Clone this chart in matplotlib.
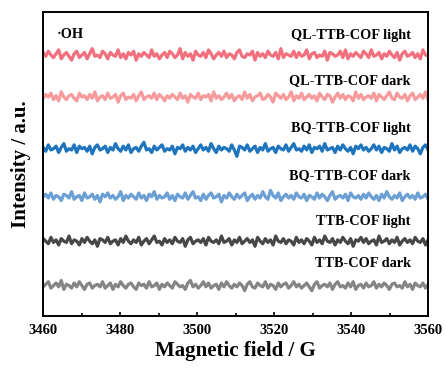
import numpy as np
import matplotlib
matplotlib.use("Agg")
import matplotlib.pyplot as plt

plt.rcParams['font.family'] = ['Liberation Serif', 'DejaVu Serif']
plt.rcParams['font.weight'] = 'bold'

# field range (G)
field_start = 3460
field_end = 3560

names = ["QL-TTB-COF light", "QL-TTB-COF dark", "BQ-TTB-COF light",
         "BQ-TTB-COF dark", "TTB-COF light", "TTB-COF dark"]
colors = ["#F2707E", "#F79A9C", "#1F74BE", "#6C9FD3", "#474747", "#858585"]
baselines = [85.8, 72.0, 55.0, 39.2, 24.6, 10.0]
label_y = [92.2, 77.3, 61.5, 46.0, 31.0, 17.2]

# noise (arbitrary units)
ql_light = [2, -1, 3, 0, -2, 1, 4, -3, 0, 2, -1, -4, 1, 3, -2, 0, 2, -3, 1, 5, -1, 0, -2, 3, 1,
            -3, 2, 0, -1, 4, -2, 1, -3, 2, 0, 3, -4, 1, -1, 2, 0, -2, 4, -1, 1, -3, 0, 2, -2, 3,
            1, -2, 0, 5, -3, 2, -1, 1, -4, 3, 0, -1, 2, -2, 4, 1, -3, 0, 2, -1, 3, -2, 1, 0, -3,
            2, 4, -1, -2, 1, 0, 3, -4, 2, -1, 1, -2, 3, 0, -1, 2, -3, 5, -2, 1, 0, -1, 3, -2, 2,
            -1, 0, 4, -3, 1, 2, -2, 0, -1, 3, -4, 2, 1, -1, 0, 3, -2, 4, -3, 1, -1, 2, 0, -2, 3,
            1, -2, 4, -1, 0, 2, -3, 1, -1, 3, 0, -2, 2, -4, 1, 3, -1, 0, 2, -2, 1, -3, 4, 0, -1]
ql_dark = [-1, 2, 0, 3, -2, 1, -3, 4, 0, -2, 1, 2, -1, -3, 3, 0, 1, -2, 2, -1, 4, -3, 0, 1, -2,
           3, -1, 0, 2, -4, 1, 3, -2, 0, -1, 2, -3, 1, 4, -2, 0, 1, -1, 3, -2, 2, 0, -3, 1, -1,
           2, 0, -2, 3, -1, 1, -4, 2, 0, -1, 3, -2, 1, 0, 2, -3, 4, -1, 1, -2, 0, 3, -1, 2, -3,
           0, 1, -2, 4, -1, 2, -3, 0, 1, 3, -2, -1, 2, 0, -4, 3, 1, -1, 2, -2, 0, 4, -3, 1, -1,
           3, -2, 0, 2, -1, 1, -3, 3, 0, -2, 2, 1, -4, 0, 3, -1, 2, -2, 1, 0, -3, 4, -1, 2, -2,
           0, 1, -1, 3, -3, 2, 0, -2, 1, 4, -1, -2, 3, 0, -1, 2, -3, 1, 3, -2, 0, 2, -1, 4, -2]
bq_light = [1, -2, 3, -1, 0, 2, -3, 1, 4, -2, 0, -1, 3, -3, 2, 0, 1, -2, 2, -4, 1, 3, -1, 0, 2,
            -3, 1, -1, 4, 0, -2, 2, -1, 3, -3, 0, 1, -2, 2, 5, -1, 0, -3, 2, -1, 1, 3, -2, 0, -1,
            2, -4, 1, 0, 3, -2, 1, -1, 2, -3, 0, 3, -1, 1, -2, 4, 0, -3, 2, -1, 1, 0, -2, 3, -1,
            -6, 2, 1, -1, 3, -2, 0, 2, -3, 1, -1, 4, -2, 0, 1, -3, 2, 0, -1, 3, -2, 1, 4, -1, 0,
            -2, 2, -1, 3, -3, 1, 0, 2, -2, 4, -1, 0, 1, -3, 2, -1, 3, 0, -2, 1, -4, 2, 0, 3, -1,
            1, -2, 0, 3, -1, 2, -3, 1, 0, -2, 4, -1, 2, -3, 0, 1, -1, 3, -2, 2, 0, -4, 1, 3, -1]
bq_dark = [0, 2, -1, 3, -2, 1, 0, -3, 2, 1, -1, 4, -2, 0, 1, -3, 3, -1, 0, 2, -2, 1, -4, 2, 0,
           3, -1, 1, -2, 0, 4, -3, 1, -1, 2, 0, -2, 3, -1, 1, -3, 2, 0, 4, -2, 1, -1, 0, 3, -2,
           1, -3, 2, 0, -1, 3, -2, 1, 4, -1, 0, -3, 2, -2, 1, 3, -1, 0, 2, -4, 1, -1, 3, 0, -2,
           2, -1, 1, 3, -3, 0, 2, -2, 1, -1, 4, 0, -2, 5, 1, -1, 3, -3, 0, 2, -1, 1, -2, 3, 0,
           -1, 2, -3, 1, 0, -2, 3, -1, 2, 0, -3, 1, 4, -2, 0, 1, -1, 2, -3, 3, 0, -1, 1, -2, 2,
           -1, 3, 0, -2, 1, -3, 2, -1, 4, 0, -2, 1, -1, 3, -3, 0, 2, -1, 1, -2, 3, -1, 0, 2, -2]
ttb_light = [2, 0, -2, 3, -1, 1, -3, 2, 0, -1, 4, -2, 1, 0, -3, 2, -1, 3, 0, -2, 1, -4, 2, 1, -1,
             3, -2, 0, 1, -3, 2, -1, 4, 0, -2, 1, -1, 3, -3, 0, 2, -2, 1, 4, -1, 0, -3, 2, -1, 1,
             -2, 3, 0, -1, 2, -4, 1, 3, -2, 0, 1, -1, 2, -3, 3, 0, -1, 1, -2, 4, -1, 0, 2, -3, 1,
             -1, 3, -2, 0, 2, -1, 1, -4, 3, 0, -2, 2, -1, 1, -3, 4, 0, -1, 2, -2, 1, 0, -3, 3, -1,
             1, -2, 2, 0, -3, 3, -1, 1, -2, 4, 0, -1, 2, -3, 1, -1, 3, 0, -2, 2, -4, 1, 0, 3, -1,
             2, -2, 0, 1, -3, 4, -1, 0, 2, -2, 1, -1, 3, -3, 0, 2, -1, 1, -2, 3, 0, -1, 2, -3, 1]
ttb_dark = [-1, 1, 3, -2, 0, 2, -1, 4, -3, 1, 0, -2, 2, -1, 3, 0, -3, 1, 2, -2, 0, 1, -1, 3, -2,
            0, 2, -3, 1, -1, 3, 0, -2, 1, 2, -1, -3, 2, 0, 1, -2, 3, -1, 0, 2, -3, 1, -1, 2, 0,
            -2, 3, 1, -1, 0, -3, 2, 4, -1, 1, -2, 0, 3, -1, 2, -2, 0, 1, -3, 2, -1, 3, 0, -2, 1,
            -1, 2, 0, -4, 1, 3, -1, -2, 2, 0, -1, 3, -2, 1, 0, -3, 2, -1, 1, 2, -2, 0, 3, -1, 1,
            -2, 0, 2, -1, -4, 1, 3, -2, 0, 1, -1, 2, -3, 1, 3, -1, 0, -2, 2, -1, 3, -3, 0, 1, -2,
            2, -1, 0, 3, -2, 1, -1, 2, 0, -3, 1, 2, -1, 0, -2, 3, -1, 1, -3, 2, 0, -1, 2, -2, 1]

traces = [ql_light, ql_dark, bq_light, bq_dark, ttb_light, ttb_dark]

fig = plt.figure(figsize=(4.45, 3.7), dpi=100)
ax = fig.add_axes([0.097, 0.146, 0.865, 0.822])

for vals, base, col, name, ly in zip(traces, baselines, colors, names, label_y):
    vals = np.array(vals, dtype=float)
    field = np.linspace(field_start, field_end, len(vals))
    ax.plot(field, base + 0.42 * vals, color=col, lw=2.3, solid_joinstyle='round')
    ax.text(3555.5, ly, name, ha='right', va='center',
            fontsize=10.3, fontweight='bold')

ax.text(3463.5, 92.5, "·OH", ha='left', va='center', fontsize=10.3, fontweight='bold')

ax.set_xlim(field_start, field_end)
ax.set_ylim(0, 100)
ax.set_xticks(np.arange(3460, 3561, 20))
ax.set_xticks(np.arange(3470, 3561, 20), minor=True)
ax.set_yticks([])
ax.tick_params(axis='x', which='both', direction='in', width=1.2, labelsize=10.5, pad=6)
ax.tick_params(axis='x', which='major', length=3)
ax.tick_params(axis='x', which='minor', length=2)
for lab in ax.get_xticklabels():
    lab.set_fontweight('bold')
for sp in ax.spines.values():
    sp.set_linewidth(1.4)

ax.set_xlabel("Magnetic field / G", fontsize=15, fontweight='bold', labelpad=3)
ax.set_ylabel("Intensity / a.u.", fontsize=15, fontweight='bold', labelpad=9)

fig.savefig("out.png", dpi=100)
